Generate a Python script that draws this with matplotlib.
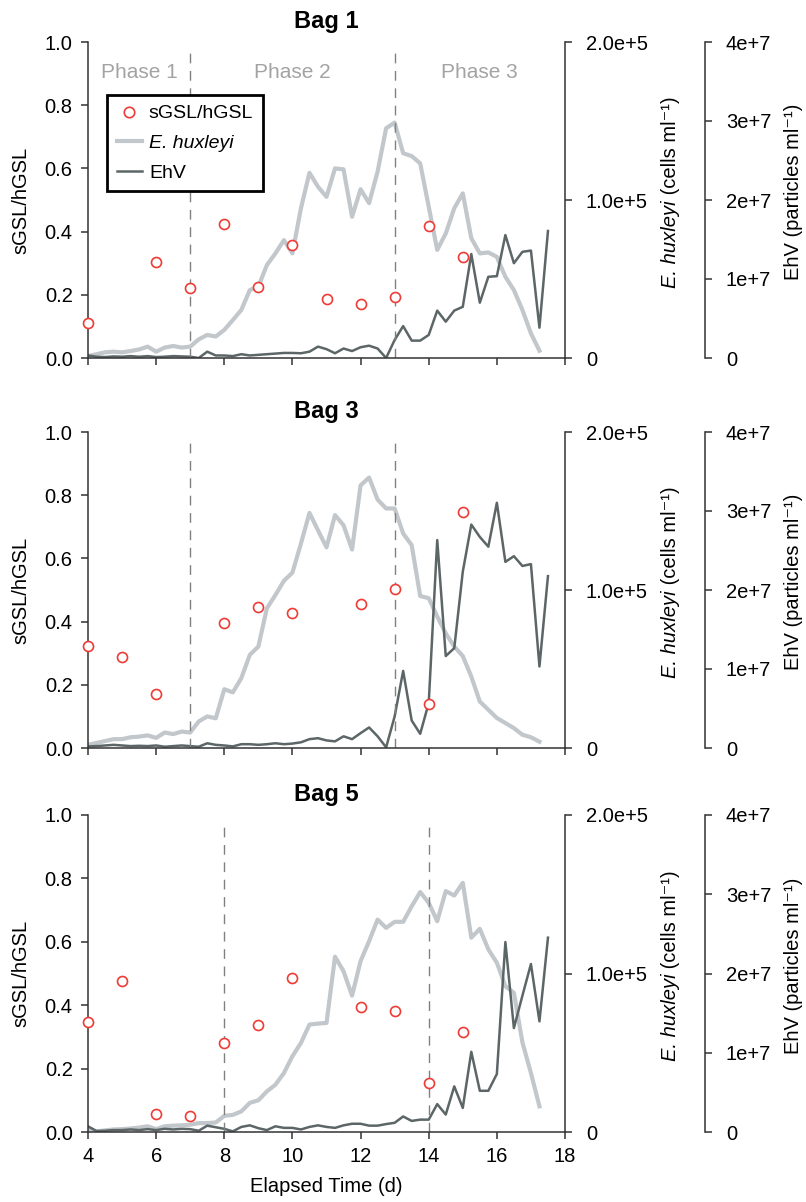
import matplotlib
matplotlib.use('Agg')
import matplotlib.pyplot as plt
from matplotlib.lines import Line2D

plt.rcParams['font.family'] = ['Liberation Sans', 'DejaVu Sans']

# sampling times (d) for the E. huxleyi and EhV counts
t_days = [4.0, 4.25, 4.5, 4.75, 5.0, 5.25, 5.5, 5.75, 6.0, 6.25, 6.5, 6.75,
          7.0, 7.25, 7.5, 7.75, 8.0, 8.25, 8.5, 8.75, 9.0, 9.25, 9.5, 9.75,
          10.0, 10.25, 10.5, 10.75, 11.0, 11.25, 11.5, 11.75, 12.0, 12.25, 12.5, 12.75,
          13.0, 13.25, 13.5, 13.75, 14.0, 14.25, 14.5, 14.75, 15.0, 15.25, 15.5, 15.75,
          16.0, 16.25, 16.5, 16.75, 17.0, 17.25, 17.5]

# E. huxleyi (x1000 cells ml-1)
hux_bag1 = [1.2, 2.4, 3.6, 4.0, 3.6, 4.4, 5.4, 7.2, 4.0, 6.6, 7.6, 6.6, 7.2, 11.8, 14.6, 13.6,
            17.8, 24.0, 30.4, 43.0, 45.2, 58.8, 66.2, 74.6, 66.2, 94.8, 117.2, 108.4, 102.0, 120.0,
            119.4, 89.4, 106.8, 98.0, 118.0, 145.4, 149.0, 129.6, 127.8, 123.2, 95.8, 68.4, 78.8,
            94.8, 104.2, 75.8, 66.2, 66.8, 64.0, 51.4, 43.0, 30.4, 15.6, 4.6]
hux_bag3 = [2.0, 3.2, 4.4, 5.6, 5.6, 6.8, 7.2, 8.0, 6.4, 9.8, 8.8, 10.4, 9.8, 16.8, 20.0, 18.8,
            37.2, 35.2, 44.2, 59.0, 64.2, 88.4, 96.8, 105.8, 111.0, 129.4, 148.8, 137.8, 127.0,
            147.4, 141.0, 125.6, 166.2, 171.2, 157.2, 151.6, 151.6, 135.8, 128.4, 96.2, 94.8, 83.2,
            72.6, 64.2, 58.2, 45.2, 29.4, 24.2, 19.0, 15.8, 12.6, 8.4, 6.8, 4.0]
hux_bag5 = [1.8, 0.4, 1.0, 1.6, 1.8, 2.2, 2.8, 3.6, 1.8, 3.6, 4.0, 4.2, 4.6, 5.6, 5.6, 6.0,
            10.2, 10.8, 13.0, 18.4, 20.0, 25.6, 29.8, 37.2, 47.8, 56.2, 67.8, 68.4, 68.8, 110.6,
            101.4, 86.0, 107.8, 120.4, 134.0, 128.8, 132.6, 132.6, 142.4, 151.4, 144.6, 133.0,
            152.0, 149.2, 157.2, 122.6, 128.2, 115.2, 106.8, 92.0, 87.8, 56.6, 37.2, 16.2]

# EhV (x1e6 particles ml-1)
ehv_bag1 = [0.32, 0.16, 0.12, 0.2, 0.16, 0.24, 0.16, 0.24, 0.12, 0.16, 0.24, 0.2, 0.16, 0.0,
            0.8, 0.32, 0.32, 0.24, 0.48, 0.32, 0.4, 0.48, 0.56, 0.64, 0.64, 0.6, 0.8, 1.44, 1.12,
            0.6, 1.2, 0.88, 1.36, 1.56, 1.2, 0.0, 2.28, 4.04, 2.2, 2.2, 2.92, 6.0, 4.6, 6.0, 6.48,
            13.16, 7.0, 10.28, 10.36, 15.56, 12.0, 13.44, 13.6, 3.84, 16.08]
ehv_bag3 = [0.2, 0.24, 0.32, 0.4, 0.32, 0.24, 0.28, 0.24, 0.32, 0.16, 0.24, 0.32, 0.24, 0.16,
            0.6, 0.4, 0.32, 0.2, 0.48, 0.48, 0.4, 0.48, 0.6, 0.48, 0.56, 0.72, 1.12, 1.24, 0.96,
            0.84, 1.48, 1.12, 1.88, 2.6, 1.48, 0.08, 4.0, 9.76, 3.48, 1.8, 5.68, 26.32, 11.64,
            12.64, 22.32, 28.28, 26.72, 25.48, 31.04, 23.56, 24.28, 23.04, 23.28, 10.32, 21.76]
ehv_bag5 = [0.72, 0.12, 0.16, 0.24, 0.24, 0.32, 0.24, 0.36, 0.24, 0.4, 0.32, 0.4, 0.36, 0.16,
            0.8, 0.6, 0.4, 0.08, 0.64, 0.84, 0.48, 0.24, 0.72, 0.52, 0.52, 0.32, 0.64, 0.84, 0.64,
            0.52, 0.84, 1.04, 1.04, 0.8, 0.8, 1.0, 1.16, 1.96, 1.4, 1.56, 1.56, 3.52, 2.2, 5.76,
            3.04, 10.12, 5.2, 5.2, 7.32, 23.96, 13.12, 17.2, 21.2, 13.96, 24.52]

# sGSL/hGSL ratio (daily)
ratio_days_bag1 = [4, 6, 7, 8, 9, 10, 11, 12, 13, 14, 15]
ratio_bag1 = [0.112, 0.303, 0.221, 0.423, 0.226, 0.359, 0.186, 0.171, 0.192, 0.419, 0.319]
ratio_days_bag3 = [4, 5, 6, 8, 9, 10, 12, 13, 14, 15]
ratio_bag3 = [0.324, 0.287, 0.171, 0.397, 0.447, 0.428, 0.455, 0.503, 0.139, 0.747]
ratio_days_bag5 = [4, 5, 6, 7, 8, 9, 10, 12, 13, 14, 15]
ratio_bag5 = [0.347, 0.476, 0.057, 0.051, 0.281, 0.339, 0.486, 0.394, 0.381, 0.153, 0.315]

# phase boundaries (d)
phase_bag1 = [7, 13]
phase_bag3 = [7, 13]
phase_bag5 = [8, 14]
phase_names = ['Phase 1', 'Phase 2', 'Phase 3']
phase_label_x = [5.5, 10.0, 15.5]

RED = '#ee3b36'
HUX_C = '#c2c7cc'
EHV_C = '#5d6667'
SPINE = '#333333'
FS = 14.5
W, H = 806, 1202


def style_spines(a, visible):
    for side in ['left', 'right', 'top', 'bottom']:
        a.spines[side].set_visible(side in visible)
        a.spines[side].set_color(SPINE)
        a.spines[side].set_linewidth(1.1)


def rot_label(fig, x_px, yc_px, parts):
    # vertical label made of pieces (some italic), centred on yc_px
    renderer = fig.canvas.get_renderer()
    texts = []
    for s, style in parts:
        t = fig.text(0, 0, s, fontsize=FS, fontstyle=style, rotation=90,
                     rotation_mode='anchor', ha='left', va='baseline')
        texts.append(t)
    lengths = [t.get_window_extent(renderer).height for t in texts]
    y = (H - yc_px) - sum(lengths) / 2
    for t, L in zip(texts, lengths):
        t.set_position((x_px / W, y / H))
        y += L


def draw_panel(fig, top_px, bot_px, title, r_days, ratio, hux, ehv, phases,
               bottom=False, legend=False):
    rect = [88 / W, 1 - bot_px / H, 477 / W, (bot_px - top_px) / H]
    ax = fig.add_axes(rect)
    ax2 = ax.twinx()
    ax3 = ax.twinx()
    ax3.spines['right'].set_position(('axes', 1 + 140 / 477))

    style_spines(ax, ['left', 'bottom'])
    style_spines(ax2, ['right'])
    style_spines(ax3, ['right'])

    ax2.plot(t_days[:len(hux)], [v * 1e3 for v in hux], color=HUX_C, lw=3)
    ax3.plot(t_days[:len(ehv)], [v * 1e6 for v in ehv], color=EHV_C, lw=1.8)

    for p in phases:
        ax.axvline(p, ymin=0, ymax=0.98, color='#808080', lw=1, dashes=(7, 5.5))
    ax.scatter(r_days, ratio, s=52, facecolor='white', edgecolor=RED, linewidth=1.2,
               clip_on=False, zorder=5)

    ax.set_zorder(ax3.get_zorder() + 1)
    ax.patch.set_visible(False)

    ax.set_xlim(4, 18)
    ax.set_ylim(0, 1)
    ax2.set_ylim(0, 2e5)
    ax3.set_ylim(0, 4e7)
    ax.set_xticks([4, 6, 8, 10, 12, 14, 16, 18])
    ax.set_yticks([0, 0.2, 0.4, 0.6, 0.8, 1.0], ['0.0', '0.2', '0.4', '0.6', '0.8', '1.0'])
    ax2.set_yticks([0, 1e5, 2e5], ['0', '1.0e+5', '2.0e+5'])
    ax3.set_yticks([0, 1e7, 2e7, 3e7, 4e7], ['0', '1e+7', '2e+7', '3e+7', '4e+7'])

    ax.tick_params(axis='y', direction='out', length=5, width=1.1, color=SPINE,
                   labelsize=FS, pad=6)
    ax.tick_params(axis='x', direction='out', length=5, width=1.1, color=SPINE,
                   labelsize=FS, pad=6, labelbottom=bottom)
    for a in (ax2, ax3):
        a.tick_params(axis='y', direction='out', length=5, width=1.1, color=SPINE,
                      labelsize=FS, pad=10)

    ax.set_ylabel('sGSL/hGSL', fontsize=FS, labelpad=10)
    ax.set_title(title, fontsize=17, fontweight='bold', pad=10)

    yc = (top_px + bot_px) / 2 - 8
    rot_label(fig, 676, yc, [('E. huxleyi', 'italic'), (' (cells ml\u207b\u00b9)', 'normal')])
    rot_label(fig, 799, yc, [('EhV (particles ml\u207b\u00b9)', 'normal')])

    if bottom:
        ax.set_xlabel('Elapsed Time (d)', fontsize=FS, labelpad=8)

    if legend:
        for name, xp in zip(phase_names, phase_label_x):
            ax.text(xp, 0.903, name, ha='center', va='center', fontsize=15, color='#a3a3a3')
        handles = [
            Line2D([], [], marker='o', ls='none', mfc='white', mec=RED, mew=1.2, ms=7.5),
            Line2D([], [], color=HUX_C, lw=3),
            Line2D([], [], color=EHV_C, lw=1.8),
        ]
        leg = ax.legend(handles, ['sGSL/hGSL', 'E. huxleyi', 'EhV'], loc='upper left',
                        bbox_to_anchor=(0.04, 0.832), borderaxespad=0, fontsize=14,
                        frameon=True, fancybox=False, framealpha=1, edgecolor='black',
                        borderpad=0.5, labelspacing=0.62, handlelength=1.3,
                        handletextpad=0.35, numpoints=1)
        leg.get_frame().set_linewidth(2)
        leg.get_texts()[1].set_fontstyle('italic')
    return ax


fig = plt.figure(figsize=(W / 100, H / 100), dpi=100)

draw_panel(fig, 42, 358, 'Bag 1', ratio_days_bag1, ratio_bag1, hux_bag1, ehv_bag1,
           phase_bag1, legend=True)
draw_panel(fig, 432, 748, 'Bag 3', ratio_days_bag3, ratio_bag3, hux_bag3, ehv_bag3,
           phase_bag3)
draw_panel(fig, 815, 1132, 'Bag 5', ratio_days_bag5, ratio_bag5, hux_bag5, ehv_bag5,
           phase_bag5, bottom=True)

fig.savefig('out.png', dpi=100)
